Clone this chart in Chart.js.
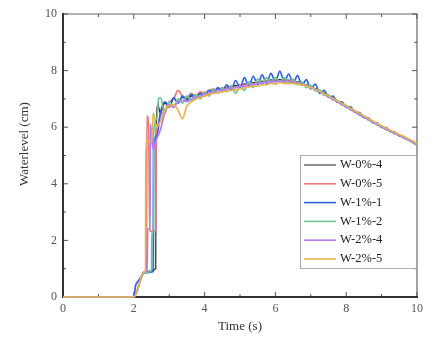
<!DOCTYPE html>
<html>
<head>
<meta charset="utf-8">
<script src="https://cdn.jsdelivr.net/npm/chart.js@4.4.0/dist/chart.umd.min.js"></script>
<style>
  html, body { margin: 0; padding: 0; background: #fff; }
</style>
</head>
<body>
<canvas id="waterChart" width="435" height="338"></canvas>
<script>
// series names + colours
const seriesNames = ['W-0%-4', 'W-0%-5', 'W-1%-1', 'W-1%-2', 'W-2%-4', 'W-2%-5'];
const seriesColors = ['#222222', '#f07a7a', '#2a62e0', '#6cc495', '#b47cf0', '#e3b54f'];

const xTicks = [0, 2, 4, 6, 8, 10];
const yTicks = [0, 2, 4, 6, 8, 10];

// rise part (before the wave settles), read per series
const riseT_w04 = [0, 2.0, 2.3, 2.62, 2.63, 2.68];
const riseY_w04 = [0, 0, 0.9, 1.0, 5.5, 6.8];
const riseT_w05 = [0, 2.0, 2.3, 2.36, 2.37, 2.42, 2.45, 2.62, 2.63, 2.68];
const riseY_w05 = [0, 0, 0.9, 0.9, 6.4, 6.0, 2.33, 2.33, 5.8, 6.1];
const riseT_w11 = [0, 2.0, 2.05, 2.15, 2.3, 2.55, 2.56, 2.65];
const riseY_w11 = [0, 0, 0.4, 0.6, 0.85, 0.9, 5.2, 5.7];
const riseT_w12 = [0, 2.0, 2.3, 2.5, 2.51, 2.55, 2.56, 2.65, 2.7];
const riseY_w12 = [0, 0, 0.85, 0.95, 2.3, 2.3, 5.8, 6.3, 7.0];
const riseT_w24 = [0, 2.0, 2.3, 2.38, 2.39, 2.46, 2.47, 2.55, 2.65];
const riseY_w24 = [0, 0, 0.9, 0.9, 2.4, 2.4, 6.1, 5.2, 5.6];
const riseT_w25 = [0, 2.0, 2.3, 2.33, 2.34, 2.5, 2.55, 2.65];
const riseY_w25 = [0, 0, 0.9, 0.9, 5.5, 5.5, 6.5, 6.0];

// shared time base after the rise (s)
const bodyTime = [2.75, 2.875, 3.0, 3.125, 3.25, 3.375, 3.5, 3.625, 3.75, 3.875,
  4.0, 4.125, 4.25, 4.375, 4.5, 4.625, 4.75, 4.875, 5.0, 5.125,
  5.25, 5.375, 5.5, 5.625, 5.75, 5.875, 6.0, 6.125, 6.25, 6.375,
  6.5, 6.625, 6.75, 6.875, 7.0, 7.125, 7.25, 7.375, 7.5, 7.625,
  7.75, 7.875, 8.0, 8.125, 8.25, 8.375, 8.5, 8.625, 8.75, 8.875,
  9.0, 9.125, 9.25, 9.375, 9.5, 9.625, 9.75, 9.875, 10.0];

const body_w04 = [6.5, 6.85, 6.7, 7.0, 6.9, 7.05, 7.0, 7.1, 7.12, 7.18,
  7.2, 7.28, 7.28, 7.35, 7.35, 7.42, 7.4, 7.48, 7.46, 7.53,
  7.5, 7.58, 7.56, 7.63, 7.6, 7.67, 7.64, 7.69, 7.65, 7.66,
  7.6, 7.6, 7.52, 7.5, 7.4, 7.37, 7.26, 7.21, 7.08, 7.03,
  6.9, 6.85, 6.72, 6.67, 6.54, 6.49, 6.36, 6.31, 6.18, 6.13,
  6.01, 5.97, 5.85, 5.82, 5.7, 5.67, 5.55, 5.51, 5.39];
const body_w05 = [6.4, 6.6, 6.9, 7.0, 7.3, 7.1, 7.05, 7.2, 7.1, 7.25,
  7.2, 7.3, 7.35, 7.3, 7.4, 7.38, 7.45, 7.42, 7.5, 7.48,
  7.55, 7.52, 7.6, 7.58, 7.65, 7.62, 7.68, 7.64, 7.68, 7.63,
  7.63, 7.57, 7.55, 7.47, 7.43, 7.34, 7.29, 7.18, 7.11, 7.0,
  6.93, 6.82, 6.75, 6.64, 6.57, 6.46, 6.39, 6.28, 6.21, 6.1,
  6.04, 5.94, 5.88, 5.79, 5.73, 5.64, 5.58, 5.48, 5.41];
const body_w11 = [6.5, 6.9, 6.75, 7.05, 6.85, 7.1, 6.95, 7.15, 7.0, 7.2,
  7.1, 7.3, 7.2, 7.4, 7.25, 7.5, 7.3, 7.65, 7.4, 7.75,
  7.45, 7.8, 7.5, 7.85, 7.55, 7.9, 7.6, 7.98, 7.6, 7.88,
  7.55, 7.82, 7.5, 7.68, 7.35, 7.52, 7.2, 7.3, 7.05, 7.1,
  6.88, 6.9, 6.7, 6.72, 6.52, 6.52, 6.34, 6.33, 6.16, 6.15,
  5.99, 5.99, 5.84, 5.83, 5.69, 5.67, 5.55, 5.5, 5.38];
const body_w12 = [7.05, 6.5, 6.9, 6.7, 7.0, 6.85, 7.1, 6.95, 7.15, 7.0,
  7.25, 7.1, 7.35, 7.2, 7.4, 7.25, 7.45, 7.2, 7.45, 7.3,
  7.6, 7.4, 7.7, 7.5, 7.75, 7.55, 7.75, 7.6, 7.75, 7.55,
  7.7, 7.5, 7.6, 7.4, 7.48, 7.28, 7.32, 7.12, 7.14, 6.96,
  6.95, 6.78, 6.77, 6.6, 6.58, 6.42, 6.4, 6.25, 6.2, 6.08,
  6.02, 5.92, 5.86, 5.76, 5.72, 5.61, 5.56, 5.45, 5.36];
const body_w24 = [5.9, 6.5, 6.8, 6.7, 6.9, 6.95, 6.9, 7.0, 7.05, 7.1,
  7.15, 7.2, 7.25, 7.3, 7.3, 7.35, 7.38, 7.4, 7.45, 7.45,
  7.5, 7.52, 7.55, 7.56, 7.6, 7.6, 7.62, 7.62, 7.62, 7.6,
  7.58, 7.55, 7.5, 7.46, 7.4, 7.33, 7.26, 7.17, 7.08, 6.99,
  6.9, 6.81, 6.72, 6.63, 6.54, 6.45, 6.36, 6.27, 6.18, 6.1,
  6.01, 5.93, 5.86, 5.78, 5.71, 5.63, 5.56, 5.48, 5.39];
const body_w25 = [6.2, 6.6, 6.75, 6.8, 6.6, 6.3, 6.75, 6.9, 7.0, 7.05,
  7.1, 7.15, 7.2, 7.22, 7.25, 7.28, 7.3, 7.33, 7.35, 7.4,
  7.42, 7.45, 7.45, 7.5, 7.5, 7.55, 7.52, 7.58, 7.55, 7.55,
  7.55, 7.52, 7.5, 7.45, 7.4, 7.33, 7.27, 7.18, 7.1, 7.02,
  6.93, 6.85, 6.76, 6.67, 6.58, 6.49, 6.4, 6.31, 6.22, 6.13,
  6.05, 5.97, 5.89, 5.82, 5.74, 5.67, 5.59, 5.51, 5.42];

const riseTimes = [riseT_w04, riseT_w05, riseT_w11, riseT_w12, riseT_w24, riseT_w25];
const riseLevels = [riseY_w04, riseY_w05, riseY_w11, riseY_w12, riseY_w24, riseY_w25];
const bodyLevels = [body_w04, body_w05, body_w11, body_w12, body_w24, body_w25];

function buildPoints(k) {
  var pts = riseTimes[k].map((t, i) => ({ x: t, y: riseLevels[k][i] }));
  bodyTime.forEach((t, i) => pts.push({ x: t, y: bodyLevels[k][i] }));
  return pts;
}

const serif = "'Liberation Serif', 'Times New Roman', serif";

const datasets = seriesNames.map((name, k) => ({
  label: name,
  data: buildPoints(k),
  borderColor: seriesColors[k],
  backgroundColor: seriesColors[k],
  borderWidth: k === 0 ? 1.2 : 1.7,
  pointRadius: 0,
  cubicInterpolationMode: 'monotone',
  clip: 4,
  order: seriesNames.length - k   // last one ends up on top
}));

// frame, inward ticks and axis titles
const framePlugin = {
  id: 'frame',
  beforeDatasetsDraw(chart) {
    const ctx = chart.ctx, ca = chart.chartArea;
    const xs = chart.scales.x, ys = chart.scales.y;
    ctx.save();
    ctx.strokeStyle = '#666';
    ctx.lineWidth = 1.2;
    ctx.beginPath();
    ctx.moveTo(ca.left, ca.top); ctx.lineTo(ca.right, ca.top); ctx.lineTo(ca.right, ca.bottom);
    ctx.stroke();
    // ticks every 1 unit, major every 2
    for (let v = 0; v <= 10; v++) {
      const len = v % 2 === 0 ? 5 : 3;
      const px = xs.getPixelForValue(v), py = ys.getPixelForValue(v);
      ctx.strokeStyle = '#555';
      ctx.lineWidth = 1;
      ctx.beginPath();
      ctx.moveTo(px, ca.bottom); ctx.lineTo(px, ca.bottom - len);
      ctx.moveTo(px, ca.top); ctx.lineTo(px, ca.top + len);
      ctx.moveTo(ca.left, py); ctx.lineTo(ca.left + len, py);
      ctx.moveTo(ca.right, py); ctx.lineTo(ca.right - len, py);
      ctx.stroke();
    }
    ctx.strokeStyle = '#333';
    ctx.lineWidth = 2;
    ctx.beginPath();
    ctx.moveTo(ca.left, ca.top - 1); ctx.lineTo(ca.left, ca.bottom); ctx.lineTo(ca.right + 1, ca.bottom);
    ctx.stroke();

    ctx.fillStyle = '#333';
    ctx.font = '13px ' + serif;
    ctx.textAlign = 'center';
    ctx.textBaseline = 'middle';
    ctx.fillText('Time (s)', (ca.left + ca.right) / 2, 327);
    ctx.translate(25, 144);
    ctx.rotate(-Math.PI / 2);
    ctx.fillText('Waterlevel (cm)', 0, 0);
    ctx.restore();
  },
  afterDatasetsDraw(chart) {
    // legend box in lower right of plot
    const ctx = chart.ctx, ca = chart.chartArea;
    const x0 = ca.right - 117, y0 = ca.top + 141, w = 116, h = 113;
    ctx.save();
    ctx.fillStyle = '#fff';
    ctx.fillRect(x0, y0, w, h);
    ctx.strokeStyle = '#aaa';
    ctx.lineWidth = 1;
    ctx.strokeRect(x0 + 0.5, y0 + 0.5, w, h);
    ctx.font = '12.5px ' + serif;
    ctx.textBaseline = 'middle';
    ctx.textAlign = 'left';
    seriesNames.forEach((name, k) => {
      const yy = y0 + 10 + k * 18.8;
      ctx.strokeStyle = seriesColors[k];
      ctx.lineWidth = k === 0 ? 1 : 1.6;
      ctx.beginPath();
      ctx.moveTo(x0 + 4, yy); ctx.lineTo(x0 + 36, yy);
      ctx.stroke();
      ctx.fillStyle = '#222';
      ctx.fillText(name, x0 + 40, yy);
    });
    ctx.restore();
  }
};

new Chart('waterChart', {
  type: 'line',
  data: { datasets: datasets },
  options: {
    responsive: false,
    animation: false,
    layout: { padding: { top: 14, right: 18, left: 0, bottom: 0 } },
    plugins: {
      legend: { display: false },
      tooltip: { enabled: false }
    },
    scales: {
      x: {
        type: 'linear',
        min: 0,
        max: 10,
        afterFit: (s) => { s.height = 41; },
        afterBuildTicks: (s) => { s.ticks = xTicks.map(v => ({ value: v })); },
        grid: { display: false, drawTicks: false },
        border: { display: false },
        ticks: { padding: 5, color: '#555', font: { family: serif, size: 12 } }
      },
      y: {
        min: 0,
        max: 10,
        afterFit: (s) => { s.width = 63; },
        afterBuildTicks: (s) => { s.ticks = yTicks.map(v => ({ value: v })); },
        grid: { display: false, drawTicks: false },
        border: { display: false },
        ticks: { padding: 6, color: '#555', font: { family: serif, size: 12 } }
      }
    }
  },
  plugins: [framePlugin]
});
</script>
</body>
</html>
